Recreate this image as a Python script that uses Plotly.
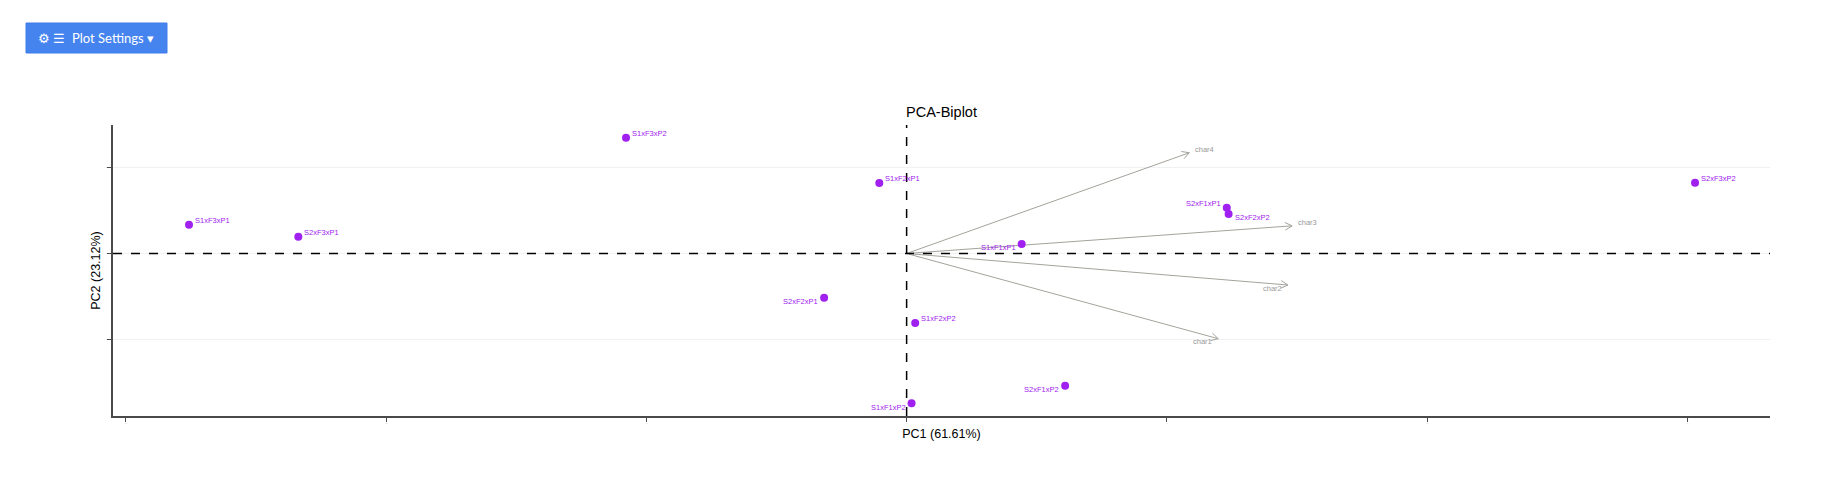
import numpy as np
import plotly.graph_objects as go

# PCA scores (PC1, PC2) per genotype
genotypes = ['S1xF3xP1', 'S2xF3xP1', 'S1xF3xP2', 'S1xF2xP1', 'S2xF1xP1', 'S2xF2xP2',
             'S1xF1xP1', 'S2xF3xP2', 'S2xF2xP1', 'S1xF2xP2', 'S2xF1xP2', 'S1xF1xP2']
pc1 = [-2.757, -2.337, -1.078, -0.105, 1.230, 1.237, 0.442, 3.029, -0.317, 0.033, 0.609, 0.019]
pc2 = [0.335, 0.196, 1.348, 0.821, 0.533, 0.460, 0.111, 0.824, -0.515, -0.809, -1.539, -1.744]
# label side: (horizontal, vertical) relative to the point
label_side = [('r', 'u'), ('r', 'u'), ('r', 'u'), ('r', 'u'), ('l', 'u'), ('r', 'd'),
              ('l', 'd'), ('r', 'u'), ('l', 'd'), ('r', 'u'), ('l', 'd'), ('l', 'd')]

# loadings (arrows)
chars = ['char1', 'char2', 'char3', 'char4']
load1 = [1.197, 1.465, 1.481, 1.086]
load2 = [-0.992, -0.367, 0.322, 1.173]
char_side = [('l', 'd'), ('l', 'd'), ('r', 'u'), ('r', 'u')]

x_ticks = [-3, -2, -1, 0, 1, 2, 3]
y_ticks = [-1, 0, 1]
x_range = [-3.049, 3.317]
y_range = [-1.892, 1.496]

# page has an 8px body margin, so the figure is a bit smaller than the window
W, H = 1814, 472
M = dict(l=105, r=52, t=117, b=64)
plot_w = W - M['l'] - M['r']
plot_h = H - M['t'] - M['b']
sx = plot_w / (x_range[1] - x_range[0])  # px per unit
sy = plot_h / (y_range[1] - y_range[0])


def px(x):
    return (x - M['l']) / plot_w


def py(y):
    return (H - M['b'] - y) / plot_h


def add_label(fig, x, y, txt, side, color, size, dy=4):
    h, v = side
    fig.add_annotation(x=x, y=y, text=txt, showarrow=False,
                       xanchor='left' if h == 'r' else 'right', yanchor='middle',
                       xshift=4 if h == 'r' else -4, yshift=dy if v == 'u' else -dy,
                       font=dict(size=size, color=color, family='Liberation Sans'))


fig = go.Figure()

arrow_col = '#a3a39c'
for i in range(len(chars)):
    x1, y1 = load1[i], load2[i]
    # open arrow head, built in pixel space then mapped back to data units
    ang = np.arctan2(y1 * sy, x1 * sx)
    hx, hy = [], []
    for d in (ang + np.pi - 0.5, ang + np.pi + 0.5):
        hx.append(x1 + 8 * np.cos(d) / sx)
        hy.append(y1 + 8 * np.sin(d) / sy)
    fig.add_trace(go.Scatter(x=[0, x1, None, hx[0], x1, hx[1]], y=[0, y1, None, hy[0], y1, hy[1]],
                             mode='lines', line=dict(color=arrow_col, width=1),
                             hoverinfo='skip', showlegend=False))
    add_label(fig, x1, y1, chars[i], char_side[i], '#9a9a9a', 7.5, dy=3)

fig.add_trace(go.Scatter(x=pc1, y=pc2, mode='markers', text=genotypes,
                         marker=dict(color='#A020F0', size=8),
                         showlegend=False))
for i in range(len(genotypes)):
    add_label(fig, pc1[i], pc2[i], genotypes[i], label_side[i], '#A020F0', 7.5)

# dashed reference lines
fig.add_shape(type='line', xref='x', yref='paper', x0=0, x1=0, y0=0, y1=1,
              line=dict(color='black', width=1.5, dash='dash'))
fig.add_shape(type='line', xref='paper', yref='y', x0=0, x1=1, y0=0, y1=0,
              line=dict(color='black', width=1.5, dash='dash'))

# "Plot Settings" button look-alike (page px: x 18-159, y 15-45)
fig.add_shape(type='rect', xref='paper', yref='paper',
              x0=px(18), x1=px(159), y0=py(45), y1=py(15),
              fillcolor='#4584ee', line=dict(color='#3f7de6', width=1))
fig.add_annotation(xref='paper', yref='paper', x=px(88), y=py(30),
                   xanchor='center', yanchor='middle',
                   text='⚙ ☰  Plot Settings ▾', showarrow=False,
                   font=dict(color='white', size=13, family='Lato'))

fig.update_layout(
    width=W, height=H, margin=M,
    paper_bgcolor='white', plot_bgcolor='white',
    font=dict(family='Liberation Sans', color='black'),
    title=dict(text='PCA-Biplot', xref='paper', x=0.5, xanchor='center', y=1 - 104 / H, yanchor='middle',
               font=dict(size=14.5, color='black')),
    xaxis=dict(range=x_range, tickvals=x_ticks, showgrid=False, zeroline=False,
               showline=True, linecolor='#4a4a4a', linewidth=1.5,
               ticks='outside', ticklen=4, tickcolor='#4a4a4a', tickwidth=1,
               tickfont=dict(size=2, color='#b0b0b0'),
               title=dict(text='PC1 (61.61%)', font=dict(size=12.5), standoff=6)),
    yaxis=dict(range=y_range, tickvals=y_ticks, showgrid=True, gridcolor='#eef2f2', gridwidth=1,
               zeroline=False, showline=True, linecolor='#4a4a4a', linewidth=1.5,
               ticks='outside', ticklen=4, tickcolor='#4a4a4a', tickwidth=1,
               tickfont=dict(size=2, color='#b0b0b0'),
               title=dict(text='PC2 (23.12%)', font=dict(size=12.5), standoff=1)),
)

fig.write_html("out.html")
